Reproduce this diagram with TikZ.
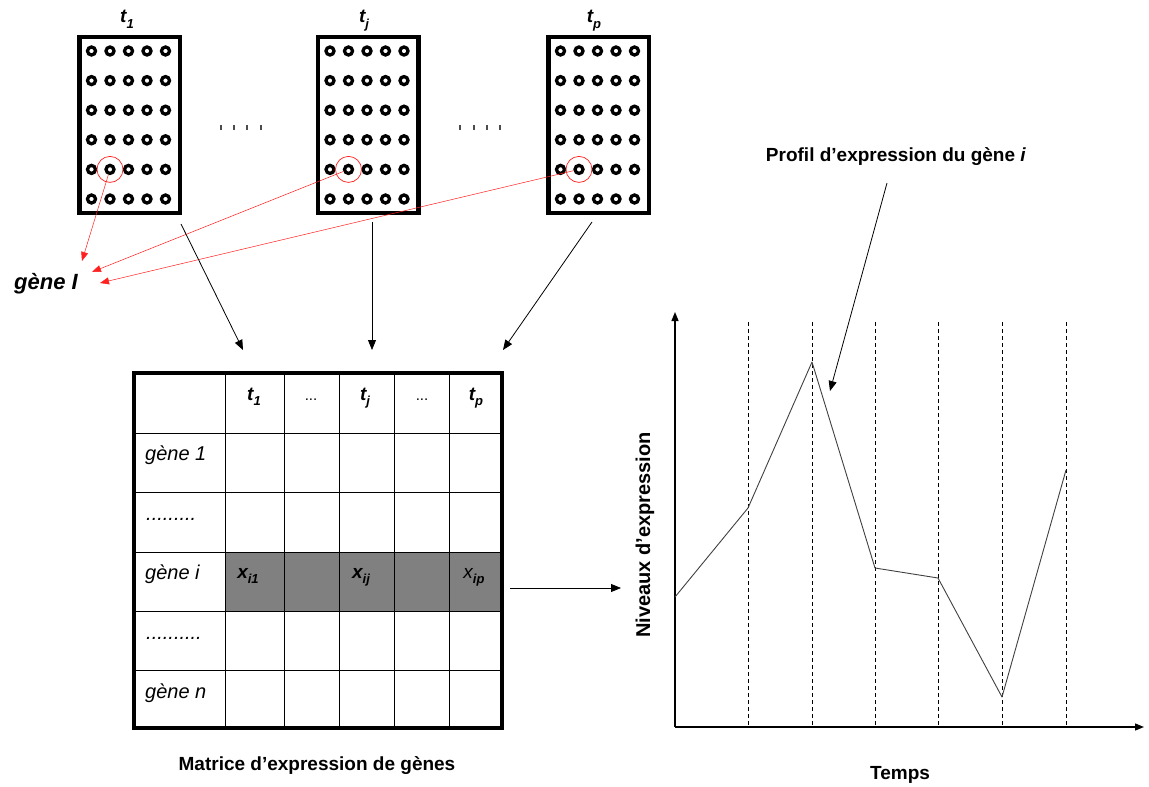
\documentclass[tikz,border=0pt]{standalone}
\usepackage{fontspec}
\setmainfont{Liberation Sans}
\usetikzlibrary{arrows.meta,calc}
\definecolor{cellgray}{HTML}{808080}
\definecolor{curvegray}{HTML}{404040}
\definecolor{pointer}{HTML}{FF2020}
\newcommand\lowsub[1]{\raisebox{-0.28em}{\fontsize{13}{13}\selectfont #1}}

\begin{document}
\begin{tikzpicture}[x=1pt,y=-1pt,
  chipframe/.style={draw,line width=4.5pt,minimum width=100.5pt,minimum height=176pt,inner sep=0pt},
  spot/.style={circle,draw,line width=3.3pt,minimum size=8pt,inner sep=0pt},
  ring/.style={circle,draw=pointer,line width=0.7pt,minimum size=26pt,inner sep=0pt},
  redarrow/.style={draw=pointer,line width=0.5pt,-{Triangle[length=9pt,width=7pt,fill=pointer]}},
  blackarrow/.style={draw=black,line width=0.8pt,-{Triangle[length=10pt,width=8pt]}},
  axisline/.style={draw=black,line width=1.3pt,-{Triangle[length=9pt,width=7pt]}},
  tickmark/.style={draw=black!70,line width=1.2pt},
  gridline/.style={draw=black,line width=0.9pt},
  timeline/.style={draw=black,line width=0.8pt,dash pattern=on 4pt off 3pt},
  profile/.style={draw=curvegray,line width=0.9pt,line join=round},
  tlabel/.style={font=\fontsize{19}{21}\selectfont\bfseries\itshape,inner sep=0pt},
  rowlabel/.style={font=\fontsize{20}{22}\selectfont\itshape,inner sep=0pt,anchor=base west},
  vallabel/.style={font=\fontsize{19}{21}\selectfont\itshape,inner sep=0pt,anchor=base},
  caption/.style={font=\fontsize{19}{22}\selectfont\bfseries,inner sep=0pt}]

\useasboundingbox (0,0) rectangle (1149,787);

% --- microarray chips at three time points
\node[chipframe] (chipA) at (129.5,125) {};
\node[chipframe] (chipB) at (368,125) {};
\node[chipframe] (chipC) at (598.5,125) {};
\foreach \c in {A,B,C}{
  \foreach \i in {1,...,5}{
    \foreach \j in {1,...,6}{
      \node[spot] (\c-\i-\j) at ($(chip\c.center)+({(\i-3)*18.5-1},{(\j-3.5)*29.6})$) {};
    }
  }
  \node[ring] (ring\c) at (\c-2-5) {};
}
\node[tlabel,anchor=base] (tA) at (127,23) {t\lowsub{1}};
\node[tlabel,anchor=base] (tB) at (364,23) {t\lowsub{j}};
\node[tlabel,anchor=base] (tC) at (594,23) {t\lowsub{p}};

% elision marks between chips
\foreach \x in {221,234,247,261,460,474,487,500}
  \draw[tickmark] (\x,125) -- (\x,129.5);

% --- the selected gene on every chip
\node[font=\fontsize{22}{24}\selectfont\bfseries\itshape,inner sep=0pt] (gene) at (46,284) {gène I};
\coordinate (gA) at (82,261);
\coordinate (gB) at (92,272);
\coordinate (gC) at (100,283);
\draw[redarrow] (A-2-5) -- (gA);
\draw[redarrow] (B-2-5) -- (gB);
\draw[redarrow] (C-2-5) -- (gC);

% --- chips feed the expression matrix
\coordinate (sA) at (181,224);
\coordinate (eA) at (243,350);
\coordinate (sB) at (372,222);
\coordinate (eB) at (372,350);
\coordinate (sC) at (592,222);
\coordinate (eC) at (503,350);
\draw[blackarrow] (sA) -- (eA);
\draw[blackarrow] (sB) -- (eB);
\draw[blackarrow] (sC) -- (eC);

% --- expression matrix
\fill[cellgray] (225,552) rectangle (502,611);
\foreach \x in {225,284,339,394,449}
  \draw[gridline] (\x,373) -- (\x,728);
\foreach \y in {433,492,552,611,670}
  \draw[gridline] (134,\y) -- (502,\y);
\node[draw,line width=3.8pt,minimum width=368pt,minimum height=355pt,inner sep=0pt] (tbl) at (318,550.5) {};

\node[tlabel,anchor=base] (h1) at (254,400) {t\lowsub{1}};
\node[font=\fontsize{15}{16}\selectfont,inner sep=0pt,anchor=base] (h2) at (311,400) {...};
\node[tlabel,anchor=base] (h3) at (365,400) {t\lowsub{j}};
\node[font=\fontsize{15}{16}\selectfont,inner sep=0pt,anchor=base] (h4) at (422,400) {...};
\node[tlabel,anchor=base] (h5) at (476,400) {t\lowsub{p}};

\node[rowlabel] (r1) at (145,460) {gène 1};
\node[rowlabel] (r2) at (146,520) {.........};
\node[rowlabel] (r3) at (145,579) {gène i};
\node[rowlabel] (r4) at (146,639) {..........};
\node[rowlabel] (r5) at (145,698) {gène n};

\node[vallabel] (v1) at (248,578) {\textbf{x}\lowsub{\bfseries i1}};
\node[vallabel] (v2) at (361,578) {\textbf{x}\lowsub{\bfseries ij}};
\node[vallabel] (v3) at (474,578) {x\lowsub{\bfseries ip}};

\node[caption] (cap) at (317,766) {Matrice d’expression de gènes};

% --- row i becomes a time profile
\coordinate (mOut) at (510,588);
\coordinate (cIn) at (621,588);
\draw[blackarrow] (mOut) -- (cIn);

% --- time course chart
\coordinate (O) at (675,727);
\coordinate (yTop) at (675,312);
\coordinate (xEnd) at (1144,727);
\foreach \x in {748,812,875,938,1002,1066}
  \draw[timeline] (\x,322) -- (\x,727);
\draw[axisline] (O) -- (yTop);
\draw[axisline] (O) -- (xEnd);

\coordinate (p0) at (675,597);
\coordinate (p1) at (748,508);
\coordinate (p2) at (812,362);
\coordinate (p3) at (875,568);
\coordinate (p4) at (938,578);
\coordinate (p5) at (1002,697);
\coordinate (p6) at (1066,470);
\draw[profile] (p0) -- (p1) -- (p2) -- (p3) -- (p4) -- (p5) -- (p6);

\node[caption] (prof) at (896,157) {Profil d’expression du gène \textit{i}};
\coordinate (pS) at (887,183);
\coordinate (pE) at (830,391);
\draw[blackarrow] (pS) -- (pE);

\node[caption,font=\fontsize{20}{22}\selectfont\bfseries,rotate=90] (ylab) at (645,535) {Niveaux d’expression};
\node[caption] (xlab) at (900,775) {Temps};
\end{tikzpicture}
\end{document}
